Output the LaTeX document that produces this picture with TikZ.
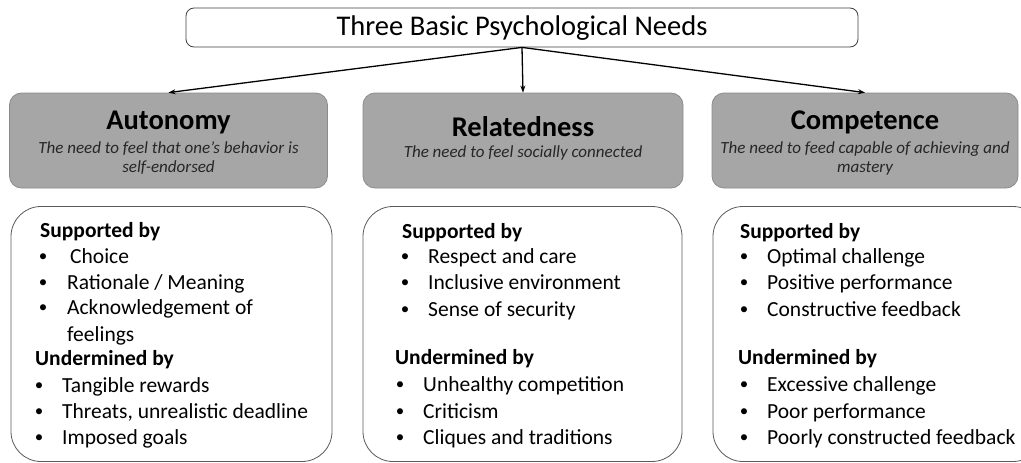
\documentclass[tikz,border=0pt]{standalone}
\usepackage{fontspec}
\setmainfont{Carlito}
\usetikzlibrary{arrows.meta}
\definecolor{boxgray}{HTML}{A6A6A6}
\definecolor{boxedge}{HTML}{8C8C8C}
\definecolor{subgray}{HTML}{262626}
\definecolor{lineedge}{HTML}{5A5A5A}
\tikzset{
  topbox/.style={draw=black!75, line width=0.8pt, rounded corners=8pt, fill=white, minimum width=672pt, minimum height=39pt, inner sep=0pt},
  needbox/.style={draw=boxedge, line width=0.8pt, rounded corners=12pt, fill=boxgray, minimum height=95pt, inner sep=0pt},
  listbox/.style={draw=lineedge, line width=0.8pt, rounded corners=30pt, fill=white, minimum height=255pt, inner sep=0pt},
  conn/.style={-{Stealth[length=7pt,width=5pt]}, line width=1.3pt, black},
  ttl/.style={font=\fontsize{28.5}{32}\selectfont, inner sep=0pt},
  needttl/.style={font=\fontsize{28.5}{32}\selectfont\bfseries, inner sep=0pt},
  needsub/.style={font=\fontsize{17}{20}\selectfont\itshape, text=subgray, inner sep=0pt},
  head/.style={font=\fontsize{21.5}{25}\selectfont\bfseries, anchor=base west, inner sep=0pt},
  item/.style={font=\fontsize{21.5}{25}\selectfont, anchor=base west, inner sep=0pt},
  bul/.style={font=\fontsize{17}{20}\selectfont, anchor=base, inner sep=0pt, yshift=1.5pt}
}
\begin{document}
\begin{tikzpicture}[x=1pt,y=-1pt]
\useasboundingbox (0,0) rectangle (1021,463);
\clip (0,0) rectangle (1021,463);
\fill[white] (0,0) rectangle (1021,463);
% top
\node[topbox] (top) at (522,27.5) {};
\node[ttl] (toptxt) at (522,28) {Three Basic Psychological Needs};
% need boxes
\node[needbox, minimum width=318pt] (aut) at (168.5,140.5) {};
\node[needbox, minimum width=320pt] (rel) at (523,140.5) {};
\node[needbox, minimum width=306pt] (com) at (865,140.5) {};
\draw[conn] (top.south) -- (aut.north);
\draw[conn] (top.south) -- (rel.north);
\draw[conn] (top.south) -- (com.north);
\node[needttl] (autt) at (168.5,122) {Autonomy};
\node[needsub] (auts1) at (168.5,149) {The need to feel that one’s behavior is};
\node[needsub] (auts2) at (168.5,168) {self-endorsed};
\node[needttl] (relt) at (523,127) {Relatedness};
\node[needsub] (rels1) at (523,153) {The need to feel socially connected};
\node[needttl] (comt) at (865,122) {Competence};
\node[needsub] (coms1) at (865,149) {The need to feed capable of achieving and};
\node[needsub] (coms2) at (865,168) {mastery};
% list boxes
\node[listbox, minimum width=321pt] (autl) at (171.5,334) {};
\node[listbox, minimum width=319pt] (rell) at (522.5,334) {};
\node[listbox, minimum width=330pt] (coml) at (878,334) {};
% Autonomy list
\node[head] (a0) at (40,237) {Supported by};
\node[bul] (ab1) at (43,263) {•};
\node[item] (a1) at (70,263) {Choice};
\node[bul] (ab2) at (43,289) {•};
\node[item] (a2) at (67,289) {Rationale / Meaning};
\node[bul] (ab3) at (43,314) {•};
\node[item] (a3) at (67,314) {Acknowledgement of};
\node[item] (a3b) at (67,341) {feelings};
\node[head] (a4) at (35,365) {Undermined by};
\node[bul] (ab5) at (39,392) {•};
\node[item] (a5) at (62,392) {Tangible rewards};
\node[bul] (ab6) at (39,418) {•};
\node[item] (a6) at (62,418) {Threats, unrealistic deadline};
\node[bul] (ab7) at (39,444) {•};
\node[item] (a7) at (62,444) {Imposed goals};
% Relatedness list
\node[head] (r0) at (402,238) {Supported by};
\node[bul] (rb1) at (405,263) {•};
\node[item] (r1) at (428,263) {Respect and care};
\node[bul] (rb2) at (405,289) {•};
\node[item] (r2) at (428,289) {Inclusive environment};
\node[bul] (rb3) at (405,316) {•};
\node[item] (r3) at (428,316) {Sense of security};
\node[head] (r4) at (395,364) {Undermined by};
\node[bul] (rb5) at (400,391) {•};
\node[item] (r5) at (423,391) {Unhealthy competition};
\node[bul] (rb6) at (400,418) {•};
\node[item] (r6) at (423,418) {Criticism};
\node[bul] (rb7) at (400,444) {•};
\node[item] (r7) at (423,444) {Cliques and traditions};
% Competence list
\node[head] (c0) at (740,238) {Supported by};
\node[bul] (cb1) at (744,263) {•};
\node[item] (c1) at (767,263) {Optimal challenge};
\node[bul] (cb2) at (744,289) {•};
\node[item] (c2) at (767,289) {Positive performance};
\node[bul] (cb3) at (744,316) {•};
\node[item] (c3) at (767,316) {Constructive feedback};
\node[head] (c4) at (738,364) {Undermined by};
\node[bul] (cb5) at (744,391) {•};
\node[item] (c5) at (767,391) {Excessive challenge};
\node[bul] (cb6) at (744,418) {•};
\node[item] (c6) at (767,418) {Poor performance};
\node[bul] (cb7) at (744,444) {•};
\node[item] (c7) at (767,444) {Poorly constructed feedback};
\end{tikzpicture}
\end{document}
